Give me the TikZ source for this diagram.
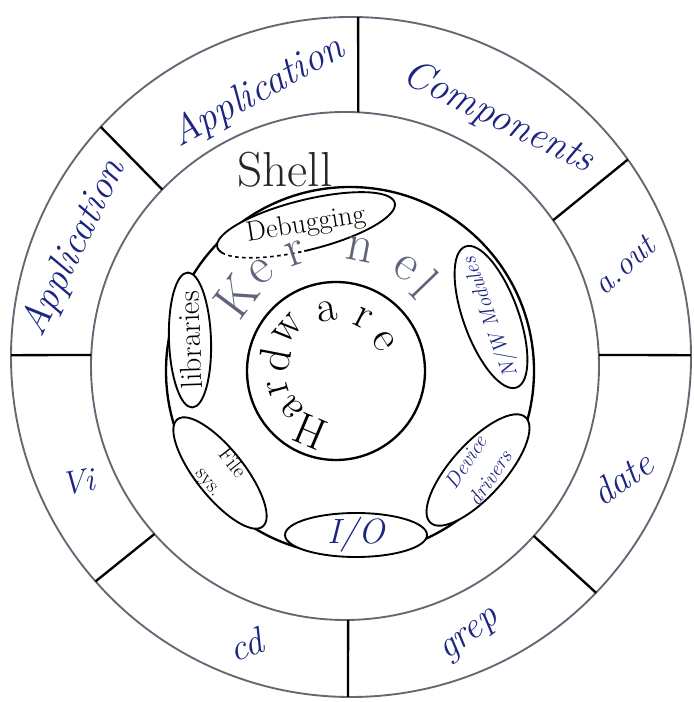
\documentclass[tikz,border=0pt]{standalone}
\usepackage{tikz}
\usetikzlibrary{shapes.geometric,calc}
\definecolor{inkblue}{RGB}{28,38,128}
\definecolor{pencil}{RGB}{100,104,116}
\definecolor{kerngray}{RGB}{95,100,122}
\tikzset{
  ring/.style     = {draw=pencil,line width=1.6pt},
  core/.style     = {draw=black,line width=2pt},
  divider/.style  = {black,line width=2pt},
  oval/.style     = {ellipse,draw,fill=white,line width=1.6pt,inner sep=0pt},
  cmd/.style      = {inkblue,inner sep=0pt,font=\itshape\fontsize{#1}{#1}\selectfont},
  cmd/.default    = 32,
  part/.style     = {inner sep=0pt,align=center,font=\fontsize{#1}{#1}\selectfont},
  part/.default   = 22,
  bluepart/.style = {inkblue,inner sep=0pt,align=center,font=\itshape\fontsize{#1}{#1}\selectfont},
  bluepart/.default = 22,
  glyph/.style    = {inner sep=0pt,font=\fontsize{#1}{#1}\selectfont}
}

\begin{document}
\begin{tikzpicture}[x=0.03cm,y=0.03cm]
  \useasboundingbox (0,0) rectangle (693,702);
  % centres of the four rings
  \coordinate (out) at (351,345);
  \coordinate (app) at (345,336);
  \coordinate (ker) at (350,331);
  \coordinate (hw)  at (336,331);

  \draw[ring] (out) circle (340);
  \draw[ring] (app) circle (254);
  \draw[core] (ker) circle (184);
  \draw[core] (hw)  circle (89);

  % spokes of the outer ring
  \foreach \a/\b in {136/137.4,87/88.8,35/35.5,2.5/0.3,-42/-43.9,-89.3/-90.5,221.4/221.3,177.5/179.7}
    \draw[divider] ($(app)+(\a:254)$) -- ($(out)+(\b:340)$);

  % outer ring
  \node[cmd=34,rotate=64]  (appL) at (74,454)  {Application};
  \node[cmd=34,rotate=29]  (appT) at (258,610) {Application};
  \node[cmd=34,rotate=-26] (comp) at (498,584) {Components};
  \node[cmd=28,rotate=42]  (aout) at (624,437) {a.out};
  \node[cmd,rotate=35]     (date) at (622,224) {date};
  \node[cmd,rotate=37]     (grep) at (471,65)  {grep};
  \node[cmd,rotate=20]     (cd)   at (246,57)  {cd};
  \node[cmd=28,rotate=10]  (vi)   at (78,220)  {Vi};

  \node[glyph=42,black!85] (shell) at (285,532) {Shell};

  % kernel parts
  \node[oval,draw=none,rotate=14,minimum width=5.49cm,minimum height=1.5cm] (dbg) at (306,477) {};
  \draw[shift={(dbg.center)},rotate=14,line width=1.6pt]
    (265:2.745cm and 0.75cm) arc[start angle=265,end angle=555,x radius=2.745cm,y radius=0.75cm];
  \draw[shift={(dbg.center)},rotate=14,line width=1.4pt,dashed]
    (195:2.745cm and 0.75cm) arc[start angle=195,end angle=265,x radius=2.745cm,y radius=0.75cm];
  \node[part=24,rotate=9] (dbgtxt) at (dbg) {Debugging};

  \node[oval,rotate=92,minimum width=4.05cm,minimum height=1.26cm] (lib) at (190,362) {};
  \node[part=26,rotate=92] (libtxt) at (lib) {libraries};

  \node[oval,rotate=-51.5,minimum width=4.11cm,minimum height=1.45cm] (fs) at (220,229) {};
  \node[part=18,rotate=-52] (fstxt) at (fs) {File\\[7pt]sys.};

  \node[oval,minimum width=4.26cm,minimum height=1.32cm] (io) at (356,167) {};
  \node[bluepart=30] (iotxt) at (io) {I/O};

  \node[oval,rotate=48,minimum width=4.26cm,minimum height=1.6cm] (dev) at (478,232) {};
  \node[bluepart=18,rotate=56] (devtxt) at (dev) {Device\\[7pt]drivers};

  \node[oval,rotate=110,minimum width=4.5cm,minimum height=1.65cm] (nw) at (491,385) {};
  \node[bluepart=18,rotate=110] (nwtxt) at (nw) {N/W Modules};

  % spread letters
  \foreach \ch/\a in {K/143,e/127,r/109,n/79,e/56,l/44}
    \node[glyph=45,kerngray,rotate=\a-90] (k\a) at ($(hw)+(\a:124)$) {\ch};
  \foreach \ch/\a/\r in {H/247/66,a/220/58,r/196/60,d/169/62,w/139/64,a/98/60,r/63/59,e/32/56}
    \node[glyph=38,rotate=\a-90] (h\a) at ($(hw)+(\a:\r)$) {\ch};
\end{tikzpicture}
\end{document}
